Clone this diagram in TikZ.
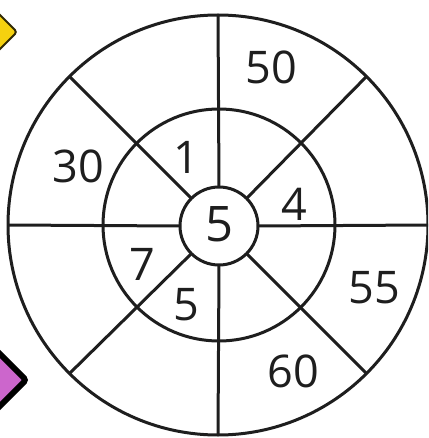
\documentclass[tikz,border=0pt]{standalone}
\usepackage{fontspec}
\setmainfont{Open Sans}
\usetikzlibrary{positioning}
\definecolor{tagyellow}{HTML}{F5D10F}
\definecolor{tagpurple}{HTML}{CC66CC}
\definecolor{ringline}{HTML}{1E1E1E}

\begin{document}
\begin{tikzpicture}[x=1pt, y=-1pt,
      ring/.style={circle, draw=ringline, line width=3pt, inner sep=0pt, outer sep=0pt},
      spoke/.style={draw=ringline, line width=3pt},
      num/.style={font=\fontsize{45}{45}\selectfont, text=ringline, inner sep=0pt}]
    \useasboundingbox (0,0) rectangle (428,438);
    \clip (0,0) rectangle (428,438);
    % corner tags
    \draw[fill=tagyellow, draw=black!80!tagyellow, line width=2pt, rounded corners=3pt]
      (-30,-15) -- (17,32) -- (-30,79) -- cycle;
    \draw[fill=tagpurple, draw=black, line width=6pt, rounded corners=3pt]
      (-40,314) -- (26,380) -- (-40,446) -- cycle;
    % rings
    \node[ring, minimum size=420pt] (outer) at (218,225) {};
    \node[ring, minimum size=232pt] (middle) at (219,225) {};
    \node[ring, minimum size=78pt] (hub) at (219,226) {};
    \foreach \a in {0,45,...,315}
      \draw[spoke] (hub.\a) -- (outer.\a);
    % numbers
    \node[num] (n50) at (271.5,67) {50};
    \node[num] (n30) at (78,166) {30};
    \node[num] (n1) at (186,157) {1};
    \node[num] (n4) at (294,204) {4};
    \node[num, font=\fontsize{49}{49}\selectfont] (n5c) at (220,224) {5};
    \node[num] (n7) at (142,264) {7};
    \node[num] (n5) at (186,305) {5};
    \node[num] (n55) at (374,288) {55};
    \node[num] (n60) at (293,371) {60};
  \end{tikzpicture}
\end{document}
